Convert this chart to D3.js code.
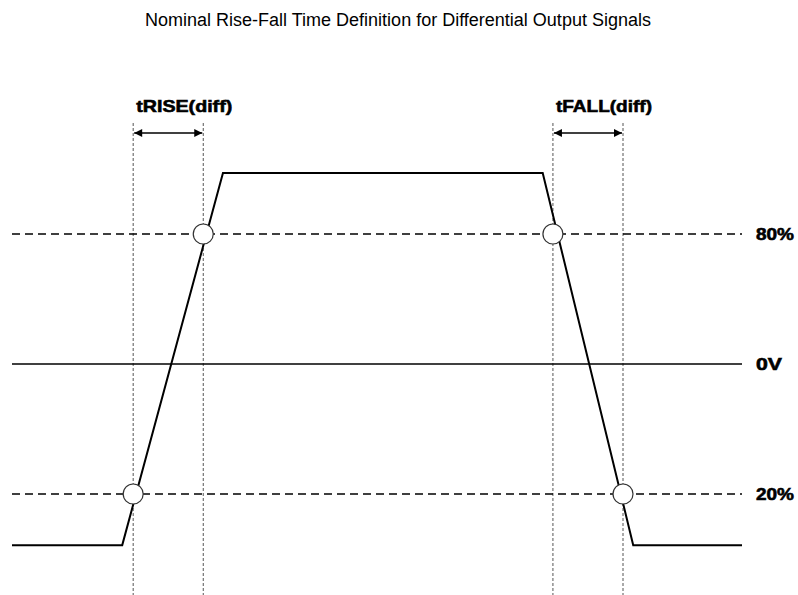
<!DOCTYPE html>
<html>
<head>
<meta charset="utf-8">
<script src="https://cdn.jsdelivr.net/npm/d3@7"></script>
<style>
  html, body { margin: 0; padding: 0; background: #fff; }
  svg { display: block; }
</style>
</head>
<body>
<svg id="chart" width="798" height="595"></svg>
<script>
// ---- data ----
const title = "Nominal Rise-Fall Time Definition for Differential Output Signals";
// signal waveform: time (arbitrary units 0..100), level (% of swing)
const signalTime  = [0, 15.1, 28.9, 72.7, 85.1, 100];
const signalLevel = [8.2, 8.2, 94.1, 94.1, 8.2, 8.2];
// reference levels
const refLevels = [80, 50, 20];
const refLabels = ["80%", "0V", "20%"];
const refStyles = ["dashed", "solid", "dashed"];
// threshold crossings: time, level
const crossTime  = [16.6, 26.2, 74.1, 83.7];
const crossLevel = [20, 80, 80, 20];
// measured intervals
const intervalNames = ["tRISE(diff)", "tFALL(diff)"];
const intervalStart = [16.6, 74.1];
const intervalEnd   = [26.2, 83.7];

// ---- layout ----
const svg = d3.select("#chart");
const x = d3.scaleLinear().domain([0, 100]).range([12, 742]);
const y = d3.scaleLinear().domain([20, 80]).range([494, 234]);
const vTop = 123, vBottom = 595, arrowY = 133;

// title
svg.append("text")
  .attr("x", 398).attr("y", 26)
  .attr("text-anchor", "middle")
  .style("font-family", "'Liberation Sans', Arial, sans-serif")
  .style("font-size", "18px")
  .attr("fill", "#000")
  .text(title);

// vertical dotted marker lines
const vx = intervalStart.concat(intervalEnd);
svg.append("g").selectAll("line").data(vx).join("line")
  .attr("x1", d => x(d)).attr("x2", d => x(d))
  .attr("y1", vTop).attr("y2", vBottom)
  .attr("stroke", "#555").attr("stroke-width", 1)
  .attr("stroke-dasharray", "3,2");

// reference lines
refLevels.forEach((lv, i) => {
  svg.append("line")
    .attr("x1", x(0)).attr("x2", x(100))
    .attr("y1", y(lv)).attr("y2", y(lv))
    .attr("stroke", "#000")
    .attr("stroke-width", refStyles[i] === "solid" ? 1.5 : 1.5)
    .attr("stroke-dasharray", refStyles[i] === "solid" ? null : "8,5");
  svg.append("text")
    .attr("x", 756).attr("y", y(lv))
    .attr("dy", "0.36em")
    .attr("textLength", lv === 50 ? 26 : 38)
    .attr("lengthAdjust", "spacingAndGlyphs")
    .style("font-family", "'Liberation Sans', Arial, sans-serif")
    .style("font-size", "17px")
    .style("font-weight", "bold")
    .attr("fill", "#000").attr("stroke", "#000").attr("stroke-width", 0.6)
    .text(refLabels[i]);
});

// signal
const pts = signalTime.map((t, i) => [t, signalLevel[i]]);
svg.append("path")
  .datum(pts)
  .attr("d", d3.line().x(d => x(d[0])).y(d => y(d[1])))
  .attr("fill", "none").attr("stroke", "#000").attr("stroke-width", 2)
  .attr("stroke-linejoin", "miter");

// crossing circles
svg.append("g").selectAll("circle").data(crossTime).join("circle")
  .attr("cx", d => x(d))
  .attr("cy", (d, i) => y(crossLevel[i]))
  .attr("r", 10)
  .attr("fill", "#fff").attr("stroke", "#333").attr("stroke-width", 1.2);

// arrow markers
const defs = svg.append("defs");
defs.append("marker").attr("id", "ah").attr("viewBox", "0 0 10 10")
  .attr("refX", 10).attr("refY", 5)
  .attr("markerWidth", 10).attr("markerHeight", 8)
  .attr("markerUnits", "userSpaceOnUse")
  .attr("orient", "auto-start-reverse")
  .append("path").attr("d", "M0,0 L10,5 L0,10 Z").attr("fill", "#000");

intervalNames.forEach((name, i) => {
  const x0 = x(intervalStart[i]), x1 = x(intervalEnd[i]);
  svg.append("line")
    .attr("x1", x0 + 1).attr("x2", x1 - 1)
    .attr("y1", arrowY).attr("y2", arrowY)
    .attr("stroke", "#000").attr("stroke-width", 1.6)
    .attr("marker-start", "url(#ah)").attr("marker-end", "url(#ah)");
  svg.append("text")
    .attr("x", (x0 + x1) / 2 + 16).attr("y", 112)
    .attr("text-anchor", "middle")
    .attr("textLength", 96)
    .attr("lengthAdjust", "spacingAndGlyphs")
    .style("font-family", "'Liberation Sans', Arial, sans-serif")
    .style("font-size", "17px")
    .style("font-weight", "bold")
    .attr("fill", "#000").attr("stroke", "#000").attr("stroke-width", 0.6)
    .text(name);
});
</script>
</body>
</html>
